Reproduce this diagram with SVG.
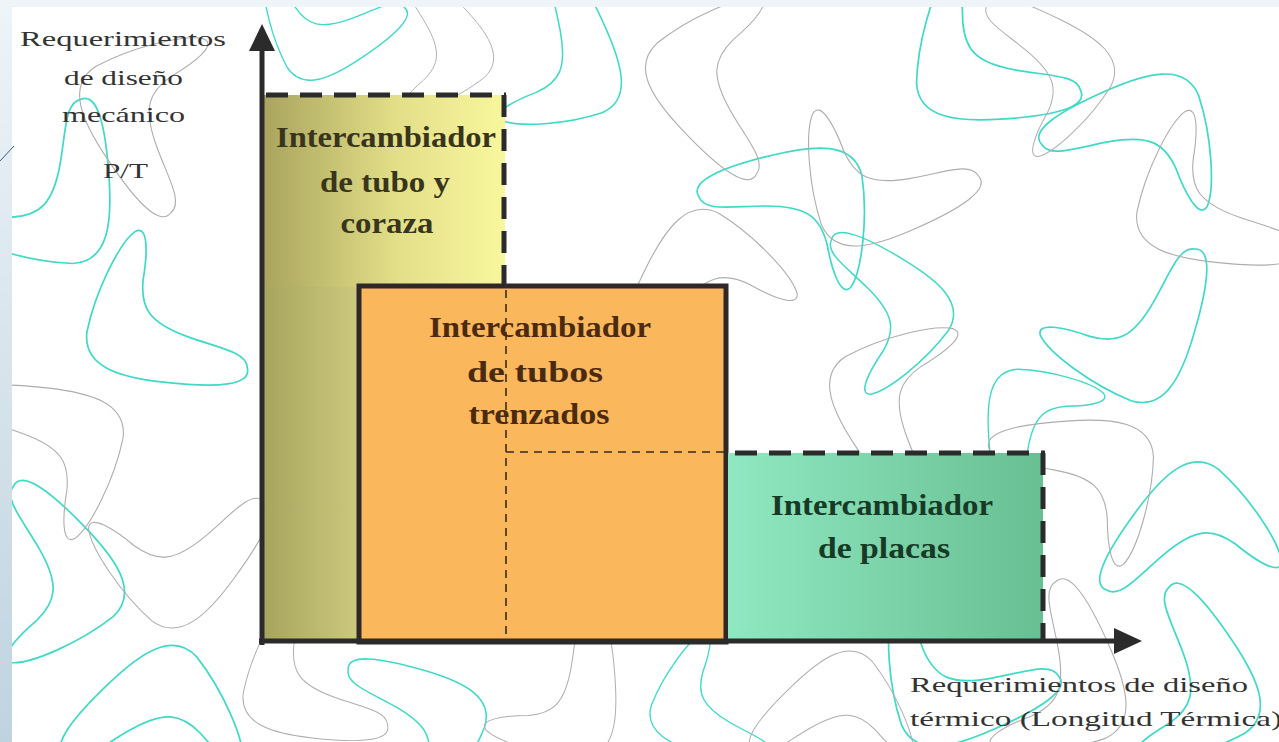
<svg xmlns="http://www.w3.org/2000/svg" xmlns:xlink="http://www.w3.org/1999/xlink" width="1279" height="742" viewBox="0 0 1279 742">
<defs>
<style>
.bc{fill:none;stroke:#3fd9c6;stroke-width:1.7}
.bg{fill:none;stroke:#adadad;stroke-width:1.1}
.ax{stroke:#2b2b2b;stroke-width:5;fill:none}
.dash{stroke:#2b2b2b;stroke-width:5;fill:none;stroke-dasharray:22 12}
.thin{stroke:#3a2a1a;stroke-width:1.6;fill:none;stroke-dasharray:8 6}
.lab{font-family:"Liberation Serif","Times New Roman",serif;font-size:22px;fill:#333}
.box{font-family:"Liberation Serif","Times New Roman",serif;font-size:30px;font-weight:bold;text-anchor:middle}
</style>
<path id="b" d="M -101,7 C -111,-8 -81,-22 -27,-35 C 14,-45 54,-49 62,-14 C 68,27 62,81 51,97 C 41,108 32,81 27,54 C 20,27 7,16 -34,16 C -68,16 -95,22 -101,7 Z"/>
<linearGradient id="g1" x1="0" y1="0" x2="1" y2="0">
<stop offset="0" stop-color="#a9a45e"/><stop offset="0.55" stop-color="#e2df88"/><stop offset="1" stop-color="#f9f79e"/>
</linearGradient>
<linearGradient id="g1b" x1="0" y1="0" x2="1" y2="0">
<stop offset="0" stop-color="#a6a45e"/><stop offset="1" stop-color="#cdc97e"/>
</linearGradient>
<linearGradient id="g3" x1="0" y1="0" x2="1" y2="0">
<stop offset="0" stop-color="#90e8c2"/><stop offset="1" stop-color="#68bf92"/>
</linearGradient>
<linearGradient id="gl" x1="0" y1="0" x2="0" y2="1">
<stop offset="0" stop-color="#eef4f8"/><stop offset="1" stop-color="#bfd3df"/>
</linearGradient>
</defs>
<rect x="0" y="0" width="1279" height="742" fill="#ffffff"/>
<g id="pattern">
<use xlink:href="#b" class="bc" transform="translate(70,200) rotate(100)"/>
<use xlink:href="#b" class="bc" transform="translate(150,340) rotate(200)"/>
<use xlink:href="#b" class="bc" transform="translate(70,570) rotate(60)"/>
<use xlink:href="#b" class="bc" transform="translate(150,700) rotate(-30)"/>
<use xlink:href="#b" class="bc" transform="translate(330,40) rotate(160) scale(0.8)"/>
<use xlink:href="#b" class="bc" transform="translate(580,60) rotate(80) scale(0.9)"/>
<use xlink:href="#b" class="bc" transform="translate(800,190) rotate(0)"/>
<use xlink:href="#b" class="bc" transform="translate(980,80) rotate(190)"/>
<use xlink:href="#b" class="bc" transform="translate(1140,120) rotate(-10)"/>
<use xlink:href="#b" class="bc" transform="translate(1150,340) rotate(120)"/>
<use xlink:href="#b" class="bc" transform="translate(900,300) rotate(45) scale(0.9)"/>
<use xlink:href="#b" class="bc" transform="translate(1180,520) rotate(-40)"/>
<use xlink:href="#b" class="bc" transform="translate(1210,680) rotate(70)"/>
<use xlink:href="#b" class="bc" transform="translate(960,700) rotate(170)"/>
<use xlink:href="#b" class="bc" transform="translate(430,710) rotate(30) scale(0.9)"/>
<use xlink:href="#b" class="bc" transform="translate(700,720) rotate(210) scale(0.8)"/>
<use xlink:href="#b" class="bc" transform="translate(1020,420) rotate(280) scale(0.8)"/>
<use xlink:href="#b" class="bg" transform="translate(130,120) rotate(250)"/>
<use xlink:href="#b" class="bg" transform="translate(60,430) rotate(20)"/>
<use xlink:href="#b" class="bg" transform="translate(190,570) rotate(140)"/>
<use xlink:href="#b" class="bg" transform="translate(300,700) rotate(200) scale(0.9)"/>
<use xlink:href="#b" class="bg" transform="translate(580,700) rotate(100) scale(0.9)"/>
<use xlink:href="#b" class="bg" transform="translate(700,90) rotate(240)"/>
<use xlink:href="#b" class="bg" transform="translate(690,270) rotate(-50)"/>
<use xlink:href="#b" class="bg" transform="translate(880,200) rotate(170)"/>
<use xlink:href="#b" class="bg" transform="translate(1060,60) rotate(40) scale(0.9)"/>
<use xlink:href="#b" class="bg" transform="translate(1200,220) rotate(200)"/>
<use xlink:href="#b" class="bg" transform="translate(1090,460) rotate(10)"/>
<use xlink:href="#b" class="bg" transform="translate(880,410) rotate(250)"/>
<use xlink:href="#b" class="bg" transform="translate(1080,680) rotate(80)"/>
<use xlink:href="#b" class="bg" transform="translate(830,700) rotate(330) scale(0.9)"/>
<use xlink:href="#b" class="bg" transform="translate(450,40) rotate(60) scale(0.8)"/>
</g>
<rect x="0" y="0" width="1279" height="7" fill="#eef4f7"/>
<rect x="0" y="0" width="12" height="742" fill="url(#gl)"/>
<line x1="0" y1="161" x2="14" y2="146" stroke="#3a5a80" stroke-width="1"/>
<g id="node-coraza">
<rect x="263" y="95" width="242" height="547" fill="url(#g1)"/>
<rect x="263" y="287" width="96" height="355" fill="url(#g1b)"/>
<line class="dash" x1="266" y1="95" x2="506" y2="95"/>
<line class="dash" x1="504" y1="95" x2="504" y2="288"/>
<text class="box" fill="#39351c"><tspan x="386" y="147" textLength="220" lengthAdjust="spacingAndGlyphs">Intercambiador</tspan><tspan x="385" y="192" textLength="130" lengthAdjust="spacingAndGlyphs">de tubo y</tspan><tspan x="387" y="233" textLength="93" lengthAdjust="spacingAndGlyphs">coraza</tspan></text>
</g>
<g id="node-trenzados">
<rect x="359" y="286" width="367" height="356" fill="#fbb75b" stroke="#2e2828" stroke-width="5"/>
<line class="thin" x1="506" y1="290" x2="506" y2="640"/>
<line class="thin" x1="506" y1="452" x2="724" y2="452"/>
<text class="box" fill="#4a2a10"><tspan x="540" y="337" textLength="222" lengthAdjust="spacingAndGlyphs">Intercambiador</tspan><tspan x="535" y="382" textLength="136" lengthAdjust="spacingAndGlyphs">de tubos</tspan><tspan x="539" y="424" textLength="141" lengthAdjust="spacingAndGlyphs">trenzados</tspan></text>
</g>
<g id="node-placas">
<rect x="728" y="453" width="315" height="187" fill="url(#g3)"/>
<line class="dash" x1="735" y1="453" x2="1045" y2="453"/>
<line class="dash" x1="1043" y1="453" x2="1043" y2="640"/>
<text class="box" fill="#173a26"><tspan x="882" y="515" textLength="222" lengthAdjust="spacingAndGlyphs">Intercambiador</tspan><tspan x="884" y="558" textLength="132" lengthAdjust="spacingAndGlyphs">de placas</tspan></text>
</g>
<g id="connectors">
<line class="ax" x1="262" y1="645" x2="262" y2="45"/>
<polygon points="262,24 249,51 275,51" fill="#2b2b2b"/>
<line class="ax" x1="259" y1="641" x2="1120" y2="641"/>
<polygon points="1142,641 1114,628 1114,654" fill="#2b2b2b"/>
</g>
<g id="labels">
<text class="lab" x="20" y="46" textLength="206" lengthAdjust="spacingAndGlyphs">Requerimientos</text>
<text class="lab" x="64" y="85" textLength="119" lengthAdjust="spacingAndGlyphs">de diseño</text>
<text class="lab" x="62" y="122" textLength="123" lengthAdjust="spacingAndGlyphs">mecánico</text>
<text class="lab" x="103" y="178" textLength="45" lengthAdjust="spacingAndGlyphs">P/T</text>
<text class="lab" x="910" y="692" textLength="338" lengthAdjust="spacingAndGlyphs">Requerimientos de diseño</text>
<text class="lab" x="910" y="726" textLength="372" lengthAdjust="spacingAndGlyphs">térmico  (Longitud Térmica)</text>
</g>
</svg>
